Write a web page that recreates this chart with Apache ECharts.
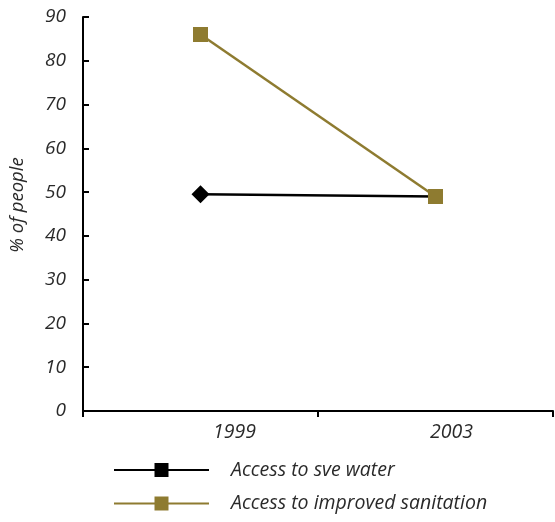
<!DOCTYPE html>
<html>
<head>
<meta charset="utf-8">
<script src="https://cdn.jsdelivr.net/npm/echarts@6/dist/echarts.min.js"></script>
<style>
  html, body { margin: 0; padding: 0; background: #fff; }
  #chart { width: 555px; height: 522px; }
</style>
</head>
<body>
<div id="chart"></div>
<script>
// 数据
var years = ['1999', '2003'];
var waterName = 'Access to sve water';
var sanitName = 'Access to improved sanitation';
var waterValues = [49.5, 49];
var sanitValues = [86, 49];
var yTicks = [0, 90, 10]; // min, max, interval

var OLIVE = '#8e7b30';
var FONT = '"Open Sans", "DejaVu Sans", sans-serif';

var chart = echarts.init(document.getElementById('chart'));

function txt(size, extra) {
    var s = { fontFamily: FONT, fontStyle: 'italic', fontSize: size, color: '#2a2a2a' };
    for (var k in extra) s[k] = extra[k];
    return s;
}

var option = {
    backgroundColor: '#fff',
    animation: false,
    grid: { left: 83, top: 17, right: 2, bottom: 111 },
    legend: {
        orient: 'vertical',
        left: 113,
        top: 460,
        padding: 0,
        itemWidth: 95,
        itemHeight: 17.5,
        itemGap: 13.5,
        textStyle: txt(19.5, { padding: [0, 0, 0, 17] }),
        data: [waterName, sanitName]
    },
    xAxis: {
        type: 'category',
        data: years,
        boundaryGap: true,
        axisLine: { lineStyle: { color: '#000', width: 2 } },
        axisTick: { show: true, inside: false, length: 6, lineStyle: { color: '#000', width: 2 } },
        axisLabel: {
            margin: 11,
            formatter: function (v, i) { return i === 0 ? '{a|' + v + '}' : '{b|' + v + '}'; },
            rich: {
                a: txt(19.5, { padding: [0, 0, 0, 68] }),
                b: txt(19.5, { padding: [0, 0, 0, 32] })
            }
        }
    },
    yAxis: {
        type: 'value',
        min: yTicks[0],
        max: yTicks[1],
        interval: yTicks[2],
        name: '% of people',
        nameLocation: 'middle',
        nameGap: 56,
        nameTextStyle: txt(18.5, { padding: [0, 0, 0, 18] }),
        axisLine: { show: true, lineStyle: { color: '#000', width: 2 } },
        axisTick: { show: true, inside: true, length: 6, lineStyle: { color: '#000', width: 2 } },
        splitLine: { show: false },
        axisLabel: {
            margin: 17,
            formatter: function (v) { return '{n|' + v + '}'; },
            rich: { n: txt(19) }
        }
    },
    series: [
        {
            name: waterName,
            type: 'line',
            symbol: 'rect',
            symbolSize: 14,
            itemStyle: { color: '#000' },
            lineStyle: { color: '#000', width: 2.5 },
            z: 2,
            data: waterValues.map(function (v, i) {
                return i === 0 ? { value: v, symbol: 'diamond', symbolSize: [18, 18] } : { value: v, symbol: 'none' };
            })
        },
        {
            name: sanitName,
            type: 'line',
            symbol: 'rect',
            symbolSize: 15,
            itemStyle: { color: OLIVE },
            lineStyle: { color: OLIVE, width: 2.5 },
            z: 3,
            data: sanitValues
        }
    ]
};

chart.setOption(option);
</script>
</body>
</html>
